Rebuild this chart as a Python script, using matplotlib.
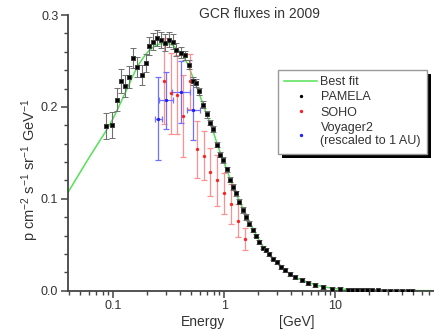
import numpy as np
import matplotlib
matplotlib.use("Agg")
import matplotlib.pyplot as plt
import matplotlib.patheffects as pe
from matplotlib.lines import Line2D
from matplotlib.ticker import LogLocator, MultipleLocator, FixedFormatter, FixedLocator

plt.rcParams['font.family'] = ['Liberation Sans', 'DejaVu Sans']
plt.rcParams['mathtext.fontset'] = 'custom'
plt.rcParams['mathtext.rm'] = 'Liberation Sans'
plt.rcParams['mathtext.it'] = 'Liberation Sans:italic'

# best fit curve, E [GeV] vs flux
fit_E = [0.0391, 0.0522, 0.0579, 0.0684, 0.0842, 0.0973, 0.108, 0.120, 0.136,
         0.1505, 0.167, 0.185, 0.205, 0.228, 0.253, 0.280, 0.311, 0.345, 0.383,
         0.425, 0.471, 0.522, 0.579, 0.643, 0.713, 0.791, 0.877, 0.994, 1.125,
         1.274, 1.473, 1.705, 1.972, 2.234, 2.583, 2.986, 3.524, 4.336, 5.01,
         6.56, 7.75, 9.94, 13.0, 20.5, 38.3, 77.5]
fit_flux = [0.107, 0.132, 0.141, 0.155, 0.172, 0.185, 0.196, 0.208, 0.222,
            0.234, 0.245, 0.253, 0.260, 0.265, 0.268, 0.269, 0.269, 0.267, 0.262,
            0.256, 0.246, 0.232, 0.218, 0.203, 0.188, 0.174, 0.157, 0.140, 0.122,
            0.106, 0.089, 0.074, 0.059, 0.048, 0.038, 0.030, 0.022, 0.0148, 0.0115,
            0.0065, 0.0042, 0.0023, 0.0011, 0.0004, 0.0001, 0.00003]

# PAMELA
pam_E = [0.0859, 0.0984, 0.1073, 0.1166, 0.1275, 0.1393, 0.1514, 0.1645, 0.180,
         0.197, 0.211, 0.229, 0.249, 0.269, 0.292, 0.320, 0.347, 0.367, 0.405,
         0.443, 0.484, 0.526, 0.556, 0.595, 0.647, 0.694, 0.743, 0.796, 0.855,
         0.915, 0.980, 1.051, 1.125, 1.205, 1.275, 1.366, 1.465, 1.568, 1.680,
         1.802, 1.931, 2.068, 2.218, 2.375, 2.544, 2.728, 2.965, 3.22, 3.52,
         3.91, 4.34, 4.98, 5.71, 6.56, 7.80, 9.28, 11.0, 13.0, 14.1, 15.7, 17.4,
         19.3, 21.4, 24.3, 27.5, 31.1, 35.2, 39.9, 45.2, 49.1]
pam_flux = [0.179, 0.180, 0.208, 0.228, 0.223, 0.233, 0.253, 0.243, 0.235,
            0.248, 0.266, 0.271, 0.275, 0.273, 0.270, 0.273, 0.271, 0.262, 0.259,
            0.256, 0.246, 0.228, 0.226, 0.217, 0.2026, 0.192, 0.183, 0.176, 0.159,
            0.148, 0.142, 0.132, 0.121, 0.113, 0.106, 0.097, 0.088, 0.080, 0.073,
            0.066, 0.060, 0.053, 0.047, 0.044, 0.040, 0.035, 0.031, 0.026, 0.0226,
            0.0182, 0.0146, 0.0117, 0.0087, 0.0062, 0.0037, 0.0022, 0.0015, 0.0008,
            0.0007, 0.0006, 0.0005, 0.0004, 0.0003, 0.00025, 0.0002, 0.00015,
            0.0001, 0.0001, 0.00008, 0.00006]
pam_err = [0.014, 0.014, 0.013, 0.013, 0.012, 0.012, 0.011, 0.011, 0.011,
           0.010, 0.010, 0.009, 0.009, 0.009, 0.009, 0.008, 0.008, 0.007, 0.006,
           0.005, 0.005, 0.004, 0.004, 0.004, 0.004, 0.004, 0.003, 0.003, 0.003,
           0.003, 0.003, 0.003, 0.003, 0.003, 0.003, 0.003, 0.003, 0.003, 0.003,
           0.002, 0.002, 0.002, 0.002, 0.002, 0.002, 0.002, 0.002, 0.002, 0.002,
           0.002, 0.002, 0.002, 0.002, 0.002, 0.002, 0.002, 0.002, 0.002, 0.002,
           0.002, 0.002, 0.002, 0.002, 0.002, 0.002, 0.002, 0.002, 0.002, 0.002,
           0.002]

# SOHO
soho_E = [0.288, 0.328, 0.372, 0.424, 0.489, 0.570, 0.650, 0.744, 0.855, 0.995,
          1.145, 1.318, 1.535]
soho_flux = [0.228, 0.215, 0.213, 0.190, 0.228, 0.154, 0.147, 0.129, 0.120, 0.106,
             0.0946, 0.076, 0.056]
soho_err = [0.047, 0.044, 0.043, 0.045, 0.030, 0.031, 0.027, 0.026, 0.028, 0.022,
            0.022, 0.018, 0.012]

# Voyager 2 rescaled to 1 AU
voy_E = [0.254, 0.299, 0.405, 0.525]
voy_Elo = [0.237, 0.260, 0.338, 0.464]
voy_Ehi = [0.273, 0.343, 0.490, 0.605]
voy_flux = [0.187, 0.207, 0.216, 0.197]
voy_err = [0.045, 0.031, 0.034, 0.033]

y_ticks = [0.0, 0.1, 0.2, 0.3]
y_labels = ['0.0', '0.1', '0.2', '0.3']
x_ticks = [0.1, 1, 10]
x_labels = ['0.1', '1', '10']

txt = '#333333'
fig = plt.figure(figsize=(4.34, 3.32), dpi=100)
ax = fig.add_axes([68 / 434, 1 - 290.7 / 332, 366 / 434, 275.7 / 332])

ax.plot(fit_E, fit_flux, color='#55e055', lw=1.1, zorder=2)

ax.errorbar(soho_E, soho_flux, yerr=soho_err, fmt='o', ms=1.4, color='#ff2020',
            ecolor='#ff9090', elinewidth=0.9, capsize=2.2, capthick=0.9, zorder=3)

vx = np.array(voy_E)
xerr = [vx - np.array(voy_Elo), np.array(voy_Ehi) - vx]
ax.errorbar(voy_E, voy_flux, xerr=xerr, yerr=voy_err, fmt='o', ms=1.4,
            color='#2020ff', ecolor='#7070ff', elinewidth=0.9, capsize=2.2,
            capthick=0.9, zorder=3)

ax.errorbar(pam_E, pam_flux, yerr=pam_err, fmt='s', ms=2.4, color='black',
            mec='#3a3a3a', mew=0.7, ecolor='#707070', elinewidth=0.8, capsize=2.2,
            capthick=0.8, zorder=4)

ax.set_xscale('log')
ax.set_xlim(0.0391, 77.5)
ax.set_ylim(0, 0.3)
ax.xaxis.set_major_locator(FixedLocator(x_ticks))
ax.xaxis.set_major_formatter(FixedFormatter(x_labels))
ax.xaxis.set_minor_locator(LogLocator(base=10, subs=np.arange(2, 10)))
ax.xaxis.set_minor_formatter(FixedFormatter([]))
ax.yaxis.set_major_locator(FixedLocator(y_ticks))
ax.yaxis.set_major_formatter(FixedFormatter(y_labels))
ax.yaxis.set_minor_locator(MultipleLocator(0.02))

for s in ['top', 'right']:
    ax.spines[s].set_visible(False)
for s in ['left', 'bottom']:
    ax.spines[s].set_color('#444444')
    ax.spines[s].set_linewidth(1.3)
ax.tick_params(which='major', direction='out', length=5, width=1.1,
               color='#444444', labelcolor=txt, labelsize=9, pad=2)
ax.tick_params(which='minor', direction='out', length=3, width=1.0,
               color='#444444')

fig.text(259 / 434, 1 - 14 / 332, 'GCR fluxes in 2009', ha='center', va='center',
         fontsize=10, color=txt)
fig.text(203 / 434, 1 - 322 / 332, 'Energy', ha='center', va='center',
         fontsize=10, color=txt)
fig.text(297 / 434, 1 - 322 / 332, '[GeV]', ha='center', va='center',
         fontsize=10, color=txt)
fig.text(30 / 434, 1 - 170 / 332,
         r'p cm$^{-2}$ s$^{-1}$ sr$^{-1}$ GeV$^{-1}$',
         rotation=90, ha='center', va='center', fontsize=10.5, color=txt)

handles = [
    Line2D([], [], color='#55e055', lw=1.1),
    Line2D([], [], ls='none', marker='o', ms=1.4, color='black'),
    Line2D([], [], ls='none', marker='o', ms=1.4, color='#ff2020'),
    Line2D([], [], ls='none', marker='o', ms=1.4, color='#2020ff'),
]
labels = ['Best fit', 'PAMELA', 'SOHO', 'Voyager2\n(rescaled to 1 AU)']
leg = ax.legend(handles, labels, loc='upper left',
                bbox_to_anchor=((278 - 68) / 366, (290.7 - 70) / 275.7),
                borderaxespad=0, fontsize=9, frameon=True, fancybox=False,
                framealpha=1, handlelength=2.6, handletextpad=0.3,
                labelspacing=0.25, borderpad=0.5, labelcolor=txt)
frame = leg.get_frame()
frame.set_facecolor('white')
frame.set_edgecolor('#999999')
frame.set_linewidth(1.0)
frame.set_path_effects([pe.withSimplePatchShadow(offset=(3, -3),
                                                 shadow_rgbFace='black', alpha=1)])

fig.savefig('out.png', dpi=100)
